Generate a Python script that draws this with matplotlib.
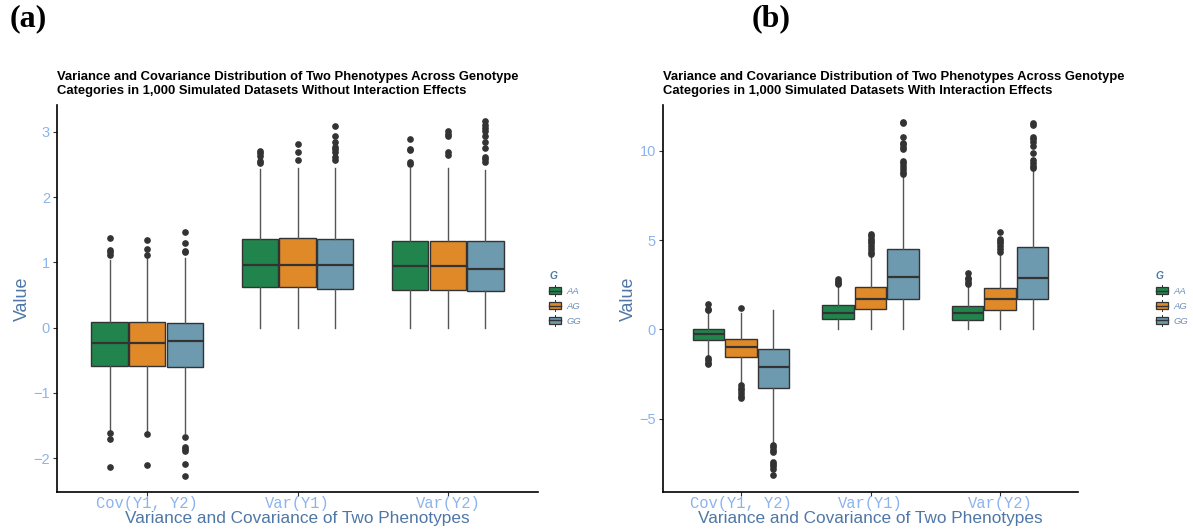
import matplotlib
matplotlib.use("Agg")
import matplotlib.pyplot as plt
from matplotlib.patches import Rectangle
from matplotlib.lines import Line2D
from matplotlib.legend_handler import HandlerBase
from matplotlib.patches import Patch

# ---------------- data ----------------
categories = ["Cov(Y1, Y2)", "Var(Y1)", "Var(Y2)"]
genotypes = ["AA", "AG", "GG"]
colors = ["#21844D", "#E08928", "#6E9AAF"]

# Panel (a): without interaction (order: category-major, genotype-minor)
q1_a = [-0.585, -0.595, -0.605, 0.62, 0.62, 0.59, 0.575, 0.58, 0.565]
med_a = [-0.23, -0.23, -0.21, 0.96, 0.96, 0.96, 0.94, 0.95, 0.90]
q3_a = [0.09, 0.08, 0.07, 1.35, 1.37, 1.35, 1.33, 1.33, 1.32]
lo_a = [-1.57, -1.58, -1.62, 0.0, 0.0, 0.0, 0.0, 0.0, 0.0]
hi_a = [1.03, 1.07, 1.07, 2.43, 2.44, 2.44, 2.45, 2.45, 2.42]
fliers_a = [
    [1.37, 1.19, 1.15, 1.11, -1.61, -1.71, -2.14],
    [1.34, 1.20, 1.11, -1.63, -2.11],
    [1.46, 1.29, 1.18, 1.15, -1.67, -1.83, -1.86, -1.89, -2.09, -2.27],
    [2.71, 2.67, 2.63, 2.55, 2.52],
    [2.82, 2.69, 2.57],
    [3.09, 2.94, 2.85, 2.77, 2.73, 2.69, 2.62, 2.57],
    [2.89, 2.74, 2.72, 2.54, 2.51],
    [3.01, 2.97, 2.94, 2.69, 2.65],
    [3.16, 3.11, 3.06, 3.01, 2.94, 2.85, 2.75, 2.62, 2.58, 2.54],
]

# Panel (b): with interaction
q1_b = [-0.60, -1.55, -3.25, 0.59, 1.13, 1.69, 0.55, 1.09, 1.69]
med_b = [-0.25, -0.98, -2.11, 0.94, 1.73, 2.92, 0.94, 1.69, 2.86]
q3_b = [0.05, -0.51, -1.12, 1.37, 2.40, 4.50, 1.31, 2.34, 4.59]
lo_b = [-1.57, -3.06, -6.41, 0.0, 0.0, 0.05, 0.0, 0.0, 0.02]
hi_b = [1.00, 0.94, 1.10, 2.40, 4.20, 8.61, 2.40, 4.20, 8.89]
fliers_b = [
    [1.45, 1.17, 1.07, -1.61, -1.72, -1.85, -1.93],
    [1.18, -3.12, -3.25, -3.38, -3.53, -3.71, -3.86],
    [-6.47, -6.60, -6.73, -6.88, -7.40, -7.53, -7.66, -7.81, -8.13],
    [2.80, 2.71, 2.62, 2.52],
    [5.32, 5.22, 5.04, 4.94, 4.85, 4.66, 4.48, 4.33, 4.24],
    [11.61, 11.56, 10.78, 10.44, 10.35, 10.22, 10.10, 9.41, 9.28, 9.13, 8.95, 8.80, 8.67],
    [3.18, 2.90, 2.80, 2.65, 2.52],
    [5.47, 5.04, 4.94, 4.82, 4.66, 4.48, 4.33],
    [11.52, 11.43, 10.76, 10.63, 10.48, 10.26, 9.84, 9.45, 9.32, 9.13, 9.00],
]

titles = [
    "Variance and Covariance Distribution of Two Phenotypes Across Genotype\n"
    "Categories in 1,000 Simulated Datasets Without Interaction Effects",
    "Variance and Covariance Distribution of Two Phenotypes Across Genotype\n"
    "Categories in 1,000 Simulated Datasets With Interaction Effects",
]
panel_labels = ["(a)", "(b)"]
yticks_a = [-2, -1, 0, 1, 2, 3]
yticks_b = [-5, 0, 5, 10]

# ---------------- style ----------------
TICK_COL = "#8DB3EE"
LAB_COL = "#4F77A6"
SANS = "Liberation Sans"
MONO = "Liberation Mono"

W, H = 1193, 531
fig = plt.figure(figsize=(W / 100, H / 100), dpi=100)


class BoxHandler(HandlerBase):
    def create_artists(self, legend, orig_handle, xdescent, ydescent,
                       width, height, fontsize, trans):
        fc = orig_handle.get_facecolor()
        x0, y0 = -xdescent, -ydescent
        bw, bh = width, height
        rect = Rectangle((x0, y0 + bh * 0.05), bw, bh * 0.9, facecolor=fc,
                         edgecolor="#333333", lw=0.9, transform=trans)
        med = Line2D([x0, x0 + bw], [y0 + bh / 2] * 2, color="#333333",
                     lw=1.0, transform=trans)
        w1 = Line2D([x0 + bw / 2] * 2, [y0 - bh * 0.2, y0 + bh * 0.05],
                    color="#333333", lw=0.7, transform=trans)
        w2 = Line2D([x0 + bw / 2] * 2, [y0 + bh * 0.95, y0 + bh * 1.2],
                    color="#333333", lw=0.7, transform=trans)
        return [w1, w2, rect, med]


def draw_panel(rect, q1, med, q3, lo, hi, fliers, ylim, yticks, title,
               legend_x):
    ax = fig.add_axes(rect)
    width = 0.25
    n = len(genotypes)
    for ci in range(len(categories)):
        for gi in range(n):
            k = ci * n + gi
            pos = ci + 1 + (gi - 1) * width
            stats = [dict(med=med[k], q1=q1[k], q3=q3[k], whislo=lo[k],
                          whishi=hi[k], fliers=fliers[k])]
            ax.bxp(stats, positions=[pos], widths=width * 0.97,
                   patch_artist=True, showcaps=False,
                   boxprops=dict(facecolor=colors[gi], edgecolor="#333333",
                                 lw=1.0),
                   medianprops=dict(color="#333333", lw=1.6),
                   whiskerprops=dict(color="#555555", lw=1.0),
                   flierprops=dict(marker="o", markersize=3.8,
                                   markerfacecolor="#333333",
                                   markeredgecolor="#333333"))
    ax.set_xlim(0.4, 3.6)
    ax.set_ylim(*ylim)
    ax.set_xticks([1, 2, 3])
    ax.set_xticklabels(categories, family=MONO, fontsize=11.2, color=TICK_COL)
    ax.set_yticks(yticks)
    ax.set_yticklabels([("\u2212" + str(-t)) if t < 0 else str(t) for t in yticks],
                       family=SANS, fontsize=10.5, color=TICK_COL)
    for s in ["top", "right"]:
        ax.spines[s].set_visible(False)
    for s in ["left", "bottom"]:
        ax.spines[s].set_linewidth(1.2)
        ax.spines[s].set_color("black")
    ax.tick_params(length=3, width=0.8, color="#333333", pad=2)
    ax.tick_params(axis="x", pad=0)
    ax.set_xlabel("Variance and Covariance of Two Phenotypes", family=SANS,
                  fontsize=12.4, color=LAB_COL, va="top")
    ax.xaxis.set_label_coords(0.5, -(511 - 492) / (492 - 105))
    ax.set_ylabel("Value", family=SANS, fontsize=12.9, color=LAB_COL,
                  labelpad=2)
    fig.text(rect[0], 1 - 71 / H, title, ha="left", va="top", family=SANS,
             fontsize=9.35, fontweight="bold", linespacing=1.27)

    handles = [Patch(facecolor=c, label=g) for c, g in zip(colors, genotypes)]
    leg = fig.legend(handles=handles, handler_map={Patch: BoxHandler()},
                     loc="upper left",
                     bbox_to_anchor=(legend_x / W, 1 - 271 / H),
                     frameon=False, title="G", borderpad=0, borderaxespad=0,
                     handlelength=1.3, handleheight=0.85, labelspacing=0.62,
                     handletextpad=0.6,
                     prop=dict(family=SANS, size=6.8, style="italic"))
    leg._legend_box.align = "left"
    t = leg.get_title()
    t.set_fontfamily(SANS)
    t.set_fontsize(7.3)
    t.set_fontweight("bold")
    t.set_fontstyle("italic")
    t.set_color(LAB_COL)
    for txt in leg.get_texts():
        txt.set_color("#6D8FB8")
    return ax


draw_panel([57 / W, 1 - 492 / H, (538 - 57) / W, (492 - 105) / H],
           q1_a, med_a, q3_a, lo_a, hi_a, fliers_a, (-2.52, 3.41), yticks_a,
           titles[0], 549)
draw_panel([663 / W, 1 - 492 / H, (1078 - 663) / W, (492 - 105) / H],
           q1_b, med_b, q3_b, lo_b, hi_b, fliers_b, (-9.09, 12.55), yticks_b,
           titles[1], 1156)

fig.text(28 / W, 1 - 19 / H, panel_labels[0], ha="center", va="center",
         family="Liberation Serif", fontweight="bold", fontsize=23)
fig.text(771 / W, 1 - 19 / H, panel_labels[1], ha="center", va="center",
         family="Liberation Serif", fontweight="bold", fontsize=23)

fig.savefig("out.png", dpi=100)
